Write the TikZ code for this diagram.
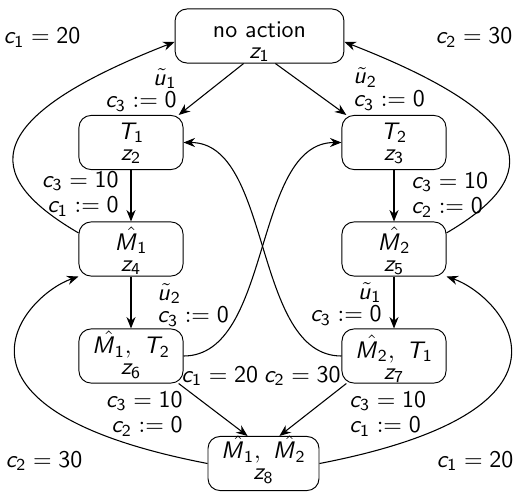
\documentclass[tikz,border=0pt]{standalone}
\usetikzlibrary{arrows.meta}
\DeclareSymbolFont{sfletters}{OT1}{cmss}{m}{sl}
\DeclareSymbolFont{sfdigits}{OT1}{cmss}{m}{n}
\DeclareMathSymbol{c}{\mathalpha}{sfletters}{`c}
\DeclareMathSymbol{z}{\mathalpha}{sfletters}{`z}
\DeclareMathSymbol{u}{\mathalpha}{sfletters}{`u}
\DeclareMathSymbol{T}{\mathalpha}{sfletters}{`T}
\DeclareMathSymbol{M}{\mathalpha}{sfletters}{`M}
\DeclareMathSymbol{0}{\mathalpha}{sfdigits}{`0}
\DeclareMathSymbol{1}{\mathalpha}{sfdigits}{`1}
\DeclareMathSymbol{2}{\mathalpha}{sfdigits}{`2}
\DeclareMathSymbol{3}{\mathalpha}{sfdigits}{`3}
\DeclareMathSymbol{4}{\mathalpha}{sfdigits}{`4}
\DeclareMathSymbol{5}{\mathalpha}{sfdigits}{`5}
\DeclareMathSymbol{6}{\mathalpha}{sfdigits}{`6}
\DeclareMathSymbol{7}{\mathalpha}{sfdigits}{`7}
\DeclareMathSymbol{8}{\mathalpha}{sfdigits}{`8}
\newcommand{\Mh}{\skew{8}{\hat}{M}}
\newcommand{\ut}{\skew{3}{\tilde}{u}}
\newcommand{\twoc}[2]{\vtop{\baselineskip=8.8pt\lineskiplimit=-100pt\lineskip=0pt\halign{\hfil##\hfil\cr#1\cr#2\cr}}}
\newcommand{\labr}[3]{\vtop{\baselineskip=#1\lineskiplimit=-100pt\lineskip=0pt\halign{\hfil##\cr#2\cr#3\cr}}}
\newcommand{\labl}[3]{\vtop{\baselineskip=#1\lineskiplimit=-100pt\lineskip=0pt\halign{##\hfil\cr#2\cr#3\cr}}}
\begin{document}
\begin{tikzpicture}[x=0.418pt,y=-0.418pt,
  every node/.style={font=\sffamily},
  st/.style={draw, rounded corners=5pt, minimum width=43.5pt, minimum height=22.6pt, inner sep=0pt, text height=5pt, text depth=#1},
  st/.default=5pt,
  lbl/.style={inner sep=0pt},
  arr/.style={-{Stealth[length=4.8pt,width=3.8pt]}, line width=0.45pt},
]
\useasboundingbox (0,0) rectangle (513,491);
\node[st=4.16pt, minimum width=70.6pt] (z1) at (259.5,36) {\twoc{no action}{$z_1$}};
\node[st=7.9pt] (z2) at (131,142.5) {\twoc{$T_1$}{$z_2$}};
\node[st=7.9pt] (z3) at (394,142.5) {\twoc{$T_2$}{$z_3$}};
\node[st=4.16pt] (z4) at (131,249) {\twoc{$\Mh_1$}{$z_4$}};
\node[st=4.16pt] (z5) at (394,249) {\twoc{$\Mh_2$}{$z_5$}};
\node[st=7.1pt] (z6) at (131,356) {\twoc{$\Mh_1,\ T_2$}{$z_6$}};
\node[st=3.33pt] (z7) at (394,356) {\twoc{$\Mh_2,\ T_1$}{$z_7$}};
\node[st=9.2pt, minimum width=46.4pt] (z8) at (263.5,463.5) {\twoc{$\Mh_1,\ \Mh_2$}{$z_8$}};

\node[lbl, anchor=base east] (l12) at (177,85) {\labr{9.4pt}{$\ut_1$}{$c_3:=0$}};
\node[lbl, anchor=base west] (l13) at (353,84) {\labl{9.4pt}{$\ut_2$}{$c_3:=0$}};
\node[lbl, anchor=base east] (l24) at (119,187) {\labr{10.7pt}{$c_3=10$}{$c_1:=0$}};
\node[lbl, anchor=base west] (l35) at (411,188) {\labl{10.7pt}{$c_3=10$}{$c_2:=0$}};
\node[lbl, anchor=base west] (l46) at (157,300) {\labl{9.4pt}{$\ut_2$}{$c_3:=0$}};
\node[lbl, anchor=base east] (l57) at (382,299) {\labr{9.4pt}{$\ut_1$}{$c_3:=0$}};
\node[lbl, anchor=base west] (l63) at (181,382) {$c_1=20$};
\node[lbl, anchor=base east] (l68) at (183,407) {\labr{10.7pt}{$c_3=10$}{$c_2:=0$}};
\node[lbl, anchor=base east] (l72) at (341,382) {$c_2=30$};
\node[lbl, anchor=base west] (l78) at (349,407) {\labl{10.7pt}{$c_3=10$}{$c_1:=0$}};
\node[lbl, anchor=base] (l41) at (42,44) {$c_1=20$};
\node[lbl, anchor=base] (l51) at (474,44) {$c_2=30$};
\node[lbl, anchor=base] (l84) at (44,467) {$c_2=30$};
\node[lbl, anchor=base] (l85) at (475,467) {$c_1=20$};

\draw[arr] (z1.240) -- (z2.30);
\draw[arr] (z1.300) -- (z3.150);
\draw[arr] (z2) -- (z4);
\draw[arr] (z3) -- (z5);
\draw[arr] (z4) -- (z6);
\draw[arr] (z5) -- (z7);
\draw[arr] (z6.-30) -- (z8.120);
\draw[arr] (z7.210) -- (z8.60);
\draw[arr] (z4.163) .. controls +(-85,-50) and +(-213,83) .. (z1.184);
\draw[arr] (z5.17) .. controls +(85,-50) and +(213,83) .. (z1.-4);
\draw[arr] (z8.west) .. controls +(-285,-55) and +(-55,19) .. (z4.south west);
\draw[arr] (z8.east) .. controls +(285,-55) and +(55,19) .. (z5.south east);
\draw[arr] (z6.east) .. controls +(89,0) and +(-89,0) .. (z3.west);
\draw[arr] (z7.west) .. controls +(-89,0) and +(89,0) .. (z2.east);
\end{tikzpicture}
\end{document}
